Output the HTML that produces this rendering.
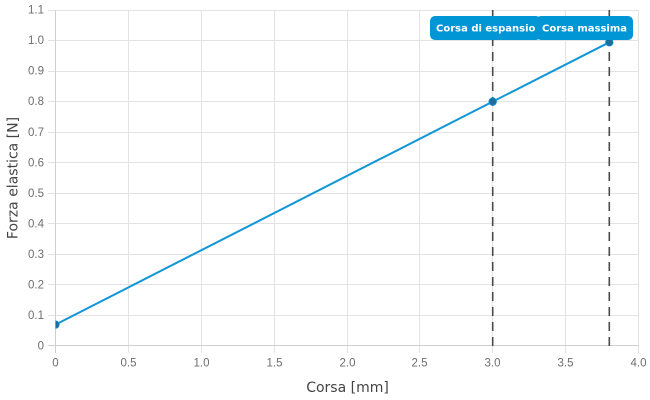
<!DOCTYPE html>
<html>
<head>
<meta charset="utf-8">
<style>
html,body{margin:0;padding:0;background:#fff;}
svg{display:block;}
</style>
</head>
<body>
<svg width="650" height="400" viewBox="0 0 650 400" xmlns="http://www.w3.org/2000/svg">
  <defs>
    <clipPath id="plot"><rect x="55.5" y="8" width="584" height="340"/></clipPath>
  </defs>
  <!-- horizontal grid + y ticks -->
  <g stroke="#e3e3e3" stroke-width="1">
    <line x1="48" y1="315.5" x2="639" y2="315.5"/>
    <line x1="48" y1="284.5" x2="639" y2="284.5"/>
    <line x1="48" y1="254.5" x2="639" y2="254.5"/>
    <line x1="48" y1="223.5" x2="639" y2="223.5"/>
    <line x1="48" y1="193.5" x2="639" y2="193.5"/>
    <line x1="48" y1="162.5" x2="639" y2="162.5"/>
    <line x1="48" y1="132.5" x2="639" y2="132.5"/>
    <line x1="48" y1="101.5" x2="639" y2="101.5"/>
    <line x1="48" y1="71.5" x2="639" y2="71.5"/>
    <line x1="48" y1="40.5" x2="639" y2="40.5"/>
    <line x1="48" y1="10.5" x2="639" y2="10.5"/>
  </g>
  <!-- vertical grid + x ticks -->
  <g stroke="#e3e3e3" stroke-width="1">
    <line x1="128.5" y1="10" x2="128.5" y2="353"/>
    <line x1="201.5" y1="10" x2="201.5" y2="353"/>
    <line x1="274.5" y1="10" x2="274.5" y2="353"/>
    <line x1="347.5" y1="10" x2="347.5" y2="353"/>
    <line x1="419.5" y1="10" x2="419.5" y2="353"/>
    <line x1="492.5" y1="10" x2="492.5" y2="353"/>
    <line x1="565.5" y1="10" x2="565.5" y2="353"/>
    <line x1="638.5" y1="10" x2="638.5" y2="353"/>
  </g>
  <!-- axes -->
  <g stroke="#cfcfcf" stroke-width="1">
    <line x1="55.5" y1="10" x2="55.5" y2="353"/>
    <line x1="48" y1="345.5" x2="639" y2="345.5"/>
  </g>
  <!-- y tick labels -->
  <g font-family="Liberation Sans, Arial, sans-serif" font-size="11.5" fill="#6e6e6e" text-anchor="end">
    <text x="44" y="349.5">0</text>
    <text x="44" y="319">0.1</text>
    <text x="44" y="288.5">0.2</text>
    <text x="44" y="258">0.3</text>
    <text x="44" y="227.5">0.4</text>
    <text x="44" y="197">0.5</text>
    <text x="44" y="166.5">0.6</text>
    <text x="44" y="136">0.7</text>
    <text x="44" y="105">0.8</text>
    <text x="44" y="74.5">0.9</text>
    <text x="44" y="44">1.0</text>
    <text x="44" y="13.5">1.1</text>
  </g>
  <!-- x tick labels -->
  <g font-family="Liberation Sans, Arial, sans-serif" font-size="11.5" fill="#6e6e6e" text-anchor="middle">
    <text x="55.5" y="366.5">0</text>
    <text x="128.5" y="366.5">0.5</text>
    <text x="201.5" y="366.5">1.0</text>
    <text x="274.5" y="366.5">1.5</text>
    <text x="347.5" y="366.5">2.0</text>
    <text x="419.5" y="366.5">2.5</text>
    <text x="492.5" y="366.5">3.0</text>
    <text x="565.5" y="366.5">3.5</text>
    <text x="638.5" y="366.5">4.0</text>
  </g>
  <!-- axis titles -->
  <text x="347.5" y="392" font-family="DejaVu Sans, sans-serif" font-size="14" fill="#444" text-anchor="middle">Corsa [mm]</text>
  <text transform="translate(17.5,178) rotate(-90)" font-family="DejaVu Sans, sans-serif" font-size="14" fill="#444" text-anchor="middle">Forza elastica [N]</text>
  <!-- dashed vertical lines -->
  <g stroke="#4a4a4a" stroke-width="1.6" stroke-dasharray="9,6" fill="none">
    <line x1="492.7" y1="346" x2="492.7" y2="10"/>
    <line x1="609.3" y1="346" x2="609.3" y2="10"/>
  </g>
  <!-- series -->
  <g clip-path="url(#plot)">
    <polyline points="55.45,324.6 492.7,101.6 609.3,42.3" fill="none" stroke="#0f96d8" stroke-width="2" stroke-linejoin="round"/>
    <circle cx="55.45" cy="324.6" r="3.8" fill="#1e6d9c" stroke="#0f96d8" stroke-width="0.8"/>
    <circle cx="492.7" cy="101.6" r="3.8" fill="#1e6d9c" stroke="#0f96d8" stroke-width="0.8"/>
    <circle cx="609.3" cy="42.3" r="3.8" fill="#1e6d9c" stroke="#0f96d8" stroke-width="0.8"/>
  </g>
  <!-- label boxes -->
  <rect x="430" y="16" width="111" height="24" rx="5" ry="5" fill="#0096d6"/>
  <rect x="536" y="16" width="97" height="24" rx="5" ry="5" fill="#0096d6"/>
  <g font-family="DejaVu Sans, sans-serif" font-size="10" font-weight="bold" fill="#ffffff">
    <text x="436" y="31.5">Corsa di espansio</text>
    <text x="542" y="31.5">Corsa massima</text>
  </g>
</svg>
</body>
</html>
